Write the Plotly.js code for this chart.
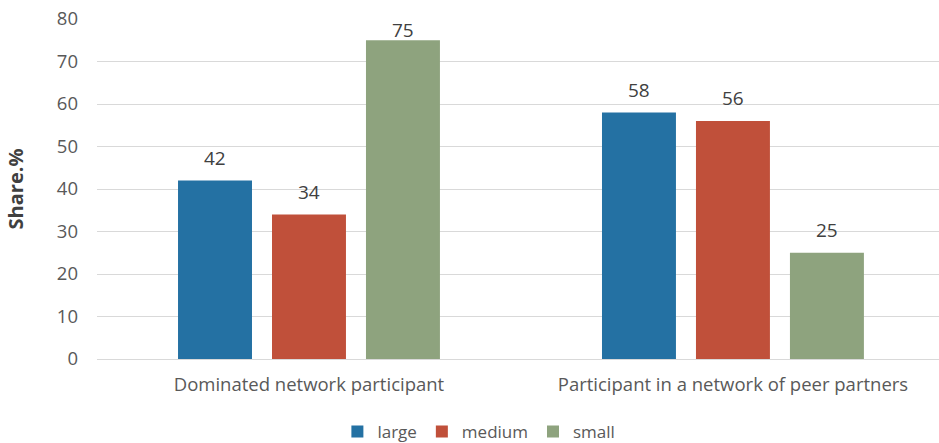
<!DOCTYPE html>
<html>
<head>
<meta charset="utf-8">
<script src="https://cdn.plot.ly/plotly-3.0.1.min.js"></script>
<style>
  html, body { margin: 0; padding: 0; background: #fff; }
  #chart { width: 939px; height: 443px; }
</style>
</head>
<body>
<div id="chart"></div>
<script>
// Network roles by enterprise size
const categories = ['Dominated network participant', 'Participant in a network of peer partners'];
const seriesNames = ['large', 'medium', 'small'];
const large = [42, 58];
const medium = [34, 56];
const small = [75, 25];
const yTicks = [0, 10, 20, 30, 40, 50, 60, 70, 80];

const colors = ['#2471a3', '#c0503a', '#8ea37e'];
const values = [large, medium, small];
const font = '"Open Sans", "Noto Sans", sans-serif';

const W = 939, H = 443;
const margin = { l: 97, r: 0, t: 19, b: 84 };
const yMax = 80;
const plotH = H - margin.t - margin.b;

const bargap = 0.335;
const bargroupgap = 0.213;

const traces = values.map((v, s) => ({
  type: 'bar',
  name: seriesNames[s],
  x: [0, 1],
  y: v,
  marker: { color: colors[s], line: { width: 0 } },
  hoverinfo: 'name+y'
}));

// value labels sit above each bar, centred on its slot in the group;
// a label that would leave the plot area is kept just inside its top edge
const slot = (1 - bargap) / seriesNames.length;
const labelGap = 23;
const labelHalf = 11;
const annotations = [];
values.forEach((v, s) => {
  v.forEach((val, i) => {
    const room = (yMax - val) * plotH / yMax - labelHalf;
    annotations.push({
      x: i + (s - 1) * slot,
      y: val,
      xref: 'x', yref: 'y',
      text: String(val),
      showarrow: false,
      yanchor: 'middle',
      yshift: Math.min(labelGap, room),
      font: { family: font, size: 19, color: '#404040' }
    });
  });
});

const layout = {
  width: W,
  height: H,
  margin: Object.assign({ autoexpand: false }, margin),
  paper_bgcolor: '#ffffff',
  plot_bgcolor: '#ffffff',
  barmode: 'group',
  bargap: bargap,
  bargroupgap: bargroupgap,
  showlegend: true,
  legend: {
    orientation: 'h',
    x: 0.51, xanchor: 'center', xref: 'container',
    y: 0.025, yanchor: 'middle', yref: 'container',
    font: { family: font, size: 17, color: '#595959' },
    itemwidth: 30,
    tracegroupgap: 0
  },
  xaxis: {
    range: [-0.5, 1.486],
    tickvals: [0, 1],
    ticktext: categories,
    showgrid: false,
    zeroline: false,
    showline: false,
    ticks: '',
    automargin: false,
    tickfont: { family: font, size: 18.5, color: '#595959' },
    ticklabelstandoff: 12
  },
  yaxis: {
    range: [0, yMax],
    tickvals: yTicks,
    showgrid: true,
    gridcolor: '#d9d9d9',
    gridwidth: 1,
    zeroline: true,
    zerolinecolor: '#d9d9d9',
    zerolinewidth: 1,
    showline: false,
    ticks: '',
    automargin: false,
    ticklabelstandoff: 18,
    tickfont: { family: font, size: 18.5, color: '#595959' },
    title: {
      text: 'Share.%',
      standoff: 27,
      font: { family: font, size: 20, color: '#404040', weight: 'bold' }
    }
  },
  annotations: annotations,
  font: { family: font }
};

Plotly.newPlot('chart', traces, layout, { displayModeBar: false, staticPlot: true });
</script>
</body>
</html>
